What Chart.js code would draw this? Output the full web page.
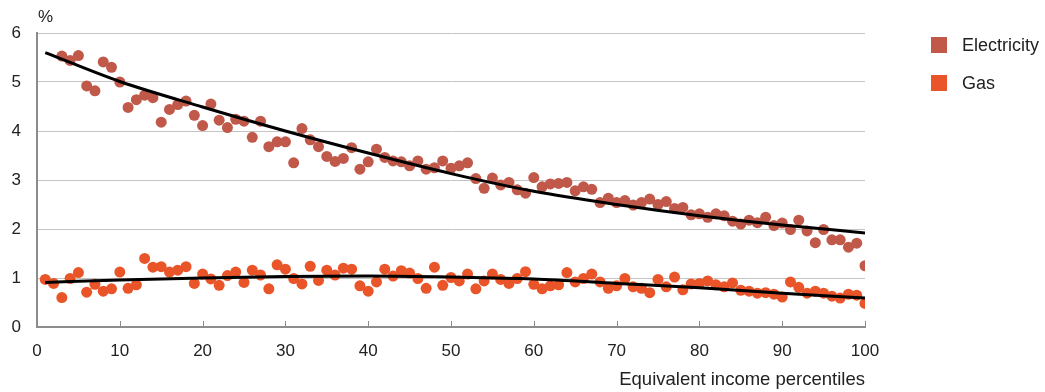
<!DOCTYPE html>
<html><head><meta charset="utf-8">
<script src="https://cdn.jsdelivr.net/npm/chart.js@4/dist/chart.umd.min.js"></script>
<style>html,body{margin:0;padding:0;background:#fff}#wrap{width:1045px;height:392px;position:relative}</style>
</head><body><div id="wrap"><canvas id="c" width="1045" height="392"></canvas></div>
<script>
const percentiles = [1,2,3,4,5,6,7,8,9,10,11,12,13,14,15,16,17,18,19,20,21,22,23,24,25,26,27,28,29,30,31,32,33,34,35,36,37,38,39,40,41,42,43,44,45,46,47,48,49,50,51,52,53,54,55,56,57,58,59,60,61,62,63,64,65,66,67,68,69,70,71,72,73,74,75,76,77,78,79,80,81,82,83,84,85,86,87,88,89,90,91,92,93,94,95,96,97,98,99,100];
const electricity = [null,null,5.53,5.44,5.54,4.92,4.82,5.41,5.30,5.00,
  4.48,4.64,4.73,4.68,4.18,4.44,4.54,4.61,4.32,4.11,
  4.55,4.22,4.07,4.24,4.20,3.87,4.20,3.68,3.78,3.78,
  3.35,4.05,3.82,3.68,3.48,3.38,3.44,3.66,3.22,3.37,
  3.63,3.46,3.39,3.37,3.29,3.39,3.22,3.25,3.39,3.24,
  3.29,3.35,3.03,2.83,3.04,2.90,2.95,2.80,2.73,3.05,
  2.86,2.92,2.93,2.95,2.78,2.86,2.81,2.54,2.63,2.54,
  2.58,2.49,2.54,2.61,2.50,2.56,2.42,2.44,2.29,2.31,
  2.24,2.31,2.27,2.16,2.10,2.18,2.13,2.24,2.07,2.12,
  1.99,2.18,1.96,1.72,1.99,1.78,1.78,1.63,1.71,1.25];
const gas = [0.97,0.89,0.60,0.99,1.11,0.71,0.87,0.73,0.78,1.12,
  0.79,0.86,1.40,1.22,1.23,1.12,1.16,1.23,0.89,1.08,
  0.98,0.85,1.05,1.12,0.91,1.16,1.06,0.78,1.27,1.18,
  0.99,0.88,1.24,0.95,1.16,1.06,1.20,1.18,0.84,0.73,
  0.92,1.18,1.04,1.15,1.10,0.99,0.79,1.22,0.85,1.01,
  0.94,1.08,0.78,0.94,1.08,0.97,0.89,0.99,1.13,0.87,
  0.78,0.84,0.86,1.11,0.92,0.99,1.08,0.92,0.79,0.84,
  0.99,0.82,0.79,0.70,0.97,0.82,1.02,0.76,0.88,0.89,
  0.94,0.86,0.82,0.90,0.75,0.73,0.69,0.70,0.67,0.61,
  0.92,0.81,0.69,0.73,0.69,0.63,0.59,0.67,0.65,0.48];
const trendX = [1,10,20,30,40,50,60,70,80,90,100];
const electricityTrend = [5.60,5.01,4.49,4.00,3.55,3.13,2.77,2.50,2.27,2.08,1.92];
const gasTrend = [0.91,0.96,1.00,1.03,1.04,1.02,0.98,0.89,0.80,0.69,0.59];
const seriesNames = ['Electricity','Gas'];
const seriesColors = ['#c0594a','#ea5429'];
const yUnit = '%';
const xTitle = 'Equivalent income percentiles';

const FONT = '"Liberation Sans", Arial, Helvetica, sans-serif';
const pts = (ys) => percentiles.map((x,i)=>({x:x,y:ys[i]})).filter(p=>p.y!==null);
const tr = (ys) => trendX.map((x,i)=>({x:x,y:ys[i]}));

const extras = {
  id:'extras',
  afterDraw(chart){
    const ctx = chart.ctx, xs = chart.scales.x, ca = chart.chartArea;
    ctx.save();
    ctx.strokeStyle = '#8c8c8c'; ctx.lineWidth = 1;
    xs.ticks.forEach(t=>{
      if (t.value === 0) return;
      const px = Math.round(xs.getPixelForValue(t.value)) + 0.5;
      ctx.beginPath(); ctx.moveTo(px, ca.bottom); ctx.lineTo(px, ca.bottom - 6); ctx.stroke();
    });
    ctx.fillStyle = '#222'; ctx.font = '17px ' + FONT;
    ctx.textAlign = 'left'; ctx.textBaseline = 'middle';
    ctx.fillText(yUnit, 38, 17);
    ctx.font = '18px ' + FONT;
    seriesNames.forEach((n,i)=>{
      const y = 37 + i*38;
      ctx.fillStyle = seriesColors[i];
      ctx.fillRect(931, y, 16, 16);
      ctx.fillStyle = '#222';
      ctx.fillText(n, 962, y + 9);
    });
    ctx.restore();
  }
};

new Chart(document.getElementById('c'), {
  type:'scatter',
  data:{datasets:[
    {type:'line', data:tr(electricityTrend), borderColor:'#000', borderWidth:3, pointRadius:0, cubicInterpolationMode:'monotone', fill:false, order:0},
    {type:'line', data:tr(gasTrend), borderColor:'#000', borderWidth:3, pointRadius:0, cubicInterpolationMode:'monotone', fill:false, order:1},
    {label:seriesNames[0], data:pts(electricity), backgroundColor:seriesColors[0], borderWidth:0, pointRadius:5.5, order:2},
    {label:seriesNames[1], data:pts(gas), backgroundColor:seriesColors[1], borderWidth:0, pointRadius:5.5, order:3}
  ]},
  options:{
    responsive:false, animation:false, devicePixelRatio:1,
    layout:{padding:{left:0, right:180, top:33, bottom:0}},
    plugins:{legend:{display:false}, tooltip:{enabled:false}},
    scales:{
      x:{type:'linear', min:0, max:100,
        ticks:{stepSize:10, color:'#222', font:{family:FONT, size:17}, padding:14, maxRotation:0},
        grid:{display:false, drawTicks:false},
        border:{display:true, color:'#8c8c8c', width:2},
        title:{display:true, text:xTitle, align:'end', color:'#222', font:{family:FONT, size:18.5}, padding:{top:0,bottom:1}},
        afterFit(s){ s.height = 65; }
      },
      y:{min:0, max:6,
        ticks:{stepSize:1, color:'#222', font:{family:FONT, size:17}, padding:16},
        grid:{color:'#c4c4c4', lineWidth:1, drawTicks:false},
        border:{display:true, color:'#8c8c8c', width:2},
        afterFit(s){ s.width = 37; }
      }
    }
  },
  plugins:[extras]
});
</script></body></html>
